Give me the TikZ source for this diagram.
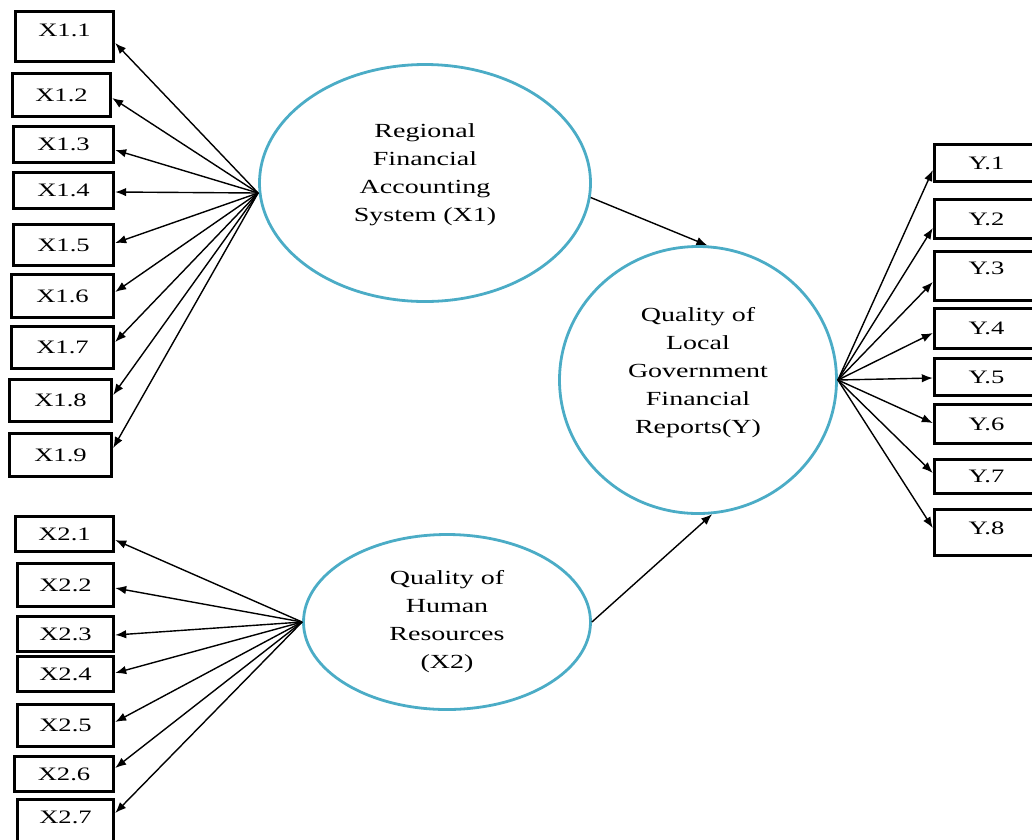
\documentclass[tikz,border=0pt]{standalone}
\usepackage{fontspec}
\setmainfont{Liberation Serif}[FakeStretch=1.4]
\usetikzlibrary{shapes.geometric,arrows.meta}
\definecolor{latblue}{RGB}{75,172,198}
\tikzset{
  ind/.style={draw, line width=3.4pt, rectangle, inner sep=0pt, font=\fontsize{19}{22}\selectfont},
  lat/.style={draw=latblue, line width=2.8pt, ellipse, inner sep=0pt, align=center,
              font=\fontsize{20}{28}\selectfont},
  arr/.style={line width=1.4pt, -{Latex[length=11pt,width=8.5pt]}},
}
\begin{document}
\begin{tikzpicture}[x=1pt,y=-1pt]
\useasboundingbox (0,0) rectangle (1032,839);
% latent variables
\node[lat, minimum width=331pt, minimum height=237pt, text depth=20pt] (x1) at (425,183)
  {Regional\\Financial\\Accounting\\System (X1)};
\node[lat, minimum width=277pt, minimum height=267pt, text depth=20pt] (y) at (698,380)
  {Quality of\\Local\\Government\\Financial\\Reports(Y)};
\node[lat, minimum width=287pt, minimum height=175pt] (x2) at (447,622)
  {Quality of\\Human\\Resources\\(X2)};
% X1 indicators
\node[ind, minimum width=98pt, minimum height=50pt, text depth=13pt] (a1) at (64.5,36.5) {X1.1};
\node[ind, minimum width=98pt, minimum height=43pt] (a2) at (61.5,95) {X1.2};
\node[ind, minimum width=100pt, minimum height=36pt] (a3) at (63.5,144.5) {X1.3};
\node[ind, minimum width=100pt, minimum height=36pt] (a4) at (63.5,190.5) {X1.4};
\node[ind, minimum width=100pt, minimum height=41pt] (a5) at (63.5,245) {X1.5};
\node[ind, minimum width=102pt, minimum height=43pt] (a6) at (62.5,296) {X1.6};
\node[ind, minimum width=102pt, minimum height=42pt] (a7) at (62.5,347.5) {X1.7};
\node[ind, minimum width=102pt, minimum height=42pt] (a8) at (60.5,400.5) {X1.8};
\node[ind, minimum width=102pt, minimum height=43pt] (a9) at (60.5,455) {X1.9};
% X2 indicators
\node[ind, minimum width=98pt, minimum height=35pt] (b1) at (64.5,534) {X2.1};
\node[ind, minimum width=96pt, minimum height=43pt] (b2) at (65.5,585) {X2.2};
\node[ind, minimum width=96pt, minimum height=35pt] (b3) at (65.5,634) {X2.3};
\node[ind, minimum width=96pt, minimum height=35pt] (b4) at (65.5,674) {X2.4};
\node[ind, minimum width=96pt, minimum height=42pt] (b5) at (65.5,725.5) {X2.5};
\node[ind, minimum width=99pt, minimum height=35pt] (b6) at (64,774) {X2.6};
\node[ind, minimum width=96pt, minimum height=49pt, text depth=14pt] (b7) at (65.5,824) {X2.7};
% Y indicators
\node[ind, minimum width=104pt, minimum height=37pt] (c1) at (986.5,163) {Y.1};
\node[ind, minimum width=104pt, minimum height=39pt] (c2) at (986.5,219) {Y.2};
\node[ind, minimum width=104pt, minimum height=49pt, text depth=16pt] (c3) at (986.5,276) {Y.3};
\node[ind, minimum width=104pt, minimum height=40pt] (c4) at (986.5,328.5) {Y.4};
\node[ind, minimum width=104pt, minimum height=37pt] (c5) at (986.5,377) {Y.5};
\node[ind, minimum width=104pt, minimum height=39pt] (c6) at (986.5,424) {Y.6};
\node[ind, minimum width=104pt, minimum height=34pt] (c7) at (986.5,476.5) {Y.7};
\node[ind, minimum width=104pt, minimum height=46pt, text depth=9pt] (c8) at (986.5,532.5) {Y.8};
% hubs
\coordinate (h1) at ([yshift=-10pt]x1.west);
\coordinate (h2) at (x2.west);
\coordinate (h3) at (y.east);
% loadings
\foreach \n/\s in {a1/-6.5,a2/-3,a3/-5.5,a4/-1.5,a5/2,a6/4,a7/5.5,a8/5.5,a9/7}
  \draw[arr] (h1) -- ([yshift=\s pt]\n.east);
\foreach \n/\s in {b1/-6,b2/-3,b3/-1,b4/1,b5/3.5,b6/6,b7/11}
  \draw[arr] (h2) -- ([yshift=\s pt]\n.east);
\foreach \n/\s in {c1/-7,c2/-9,c3/-6,c4/-4.5,c5/-1,c6/1,c7/3.5,c8/4.5}
  \draw[arr] (h3) -- ([yshift=\s pt]\n.west);
% structural paths
\draw[arr] (x1.-5) -- (y.86);
\draw[arr] (x2.0) -- (y.-84);
\end{tikzpicture}
\end{document}
